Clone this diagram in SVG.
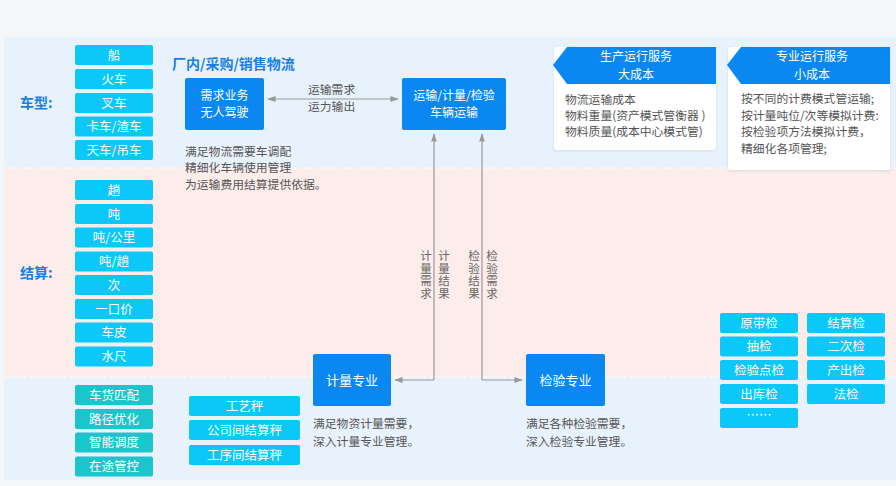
<svg xmlns="http://www.w3.org/2000/svg" width="896" height="486" viewBox="0 0 896 486">
<defs>
<style>
text{font-family:"Noto Sans CJK SC","Noto Sans",sans-serif;}
.cy{fill:#0bc8f9;}
.tl{fill:#1cc4cb;}
.bl{fill:#0a87f1;}
.wt{fill:#fff;font-size:12.5px;text-anchor:middle;}
.wn{fill:#fff;font-size:13px;text-anchor:middle;}
.w2{fill:#fff;font-size:12px;text-anchor:middle;}
.gt{fill:#555;font-size:11.8px;}
.lab{fill:#1a7fe0;font-size:14px;font-weight:bold;}
.ln{fill:none;stroke:#9a9a9a;stroke-width:1.2;}
.vt{fill:#666;font-size:11.5px;writing-mode:vertical-rl;letter-spacing:1px;}
</style>
<marker id="ah" viewBox="0 0 10 10" refX="9" refY="5" markerWidth="7" markerHeight="7" orient="auto-start-reverse">
<path d="M0,1.5 L10,5 L0,8.5 z" fill="#999"/>
</marker>
<filter id="sh" x="-10%" y="-10%" width="120%" height="130%">
<feDropShadow dx="0" dy="1" stdDeviation="1.5" flood-color="#9bb" flood-opacity="0.35"/>
</filter>
</defs>
<rect x="0" y="0" width="896" height="486" fill="#f4f6fa"/>
<rect x="4" y="37" width="892" height="131" fill="#e8f2fd"/>
<rect x="4" y="168" width="892" height="209" fill="#fcecea"/>
<rect x="4" y="377" width="892" height="103" fill="#e8f2fd"/>
<line x1="4" y1="168" x2="896" y2="168" stroke="#fff" stroke-width="1" stroke-dasharray="3,2"/>
<line x1="4" y1="377" x2="896" y2="377" stroke="#fff" stroke-width="1" stroke-dasharray="3,2"/>

<text class="lab" x="20" y="108">车型:</text>
<text class="lab" x="20" y="278">结算:</text>
<text class="lab" x="172" y="69">厂内/采购/销售物流</text>

<g id="vehicles">
<rect class="cy" x="75" y="45" width="78" height="20" rx="2"/><text class="wt" x="114" y="59.5">船</text>
<rect class="cy" x="75" y="69" width="78" height="20" rx="2"/><text class="wt" x="114" y="83.5">火车</text>
<rect class="cy" x="75" y="93" width="78" height="20" rx="2"/><text class="wt" x="114" y="107.5">叉车</text>
<rect class="cy" x="75" y="116.5" width="78" height="20" rx="2"/><text class="wt" x="114" y="131">卡车/渣车</text>
<rect class="cy" x="75" y="140" width="78" height="20" rx="2"/><text class="wt" x="114" y="154.5">天车/吊车</text>
</g>

<g id="settlement">
<rect class="cy" x="75" y="180" width="78" height="20" rx="2"/><text class="wt" x="114" y="194.5">趟</text>
<rect class="cy" x="75" y="204" width="78" height="20" rx="2"/><text class="wt" x="114" y="218.5">吨</text>
<rect class="cy" x="75" y="227.5" width="78" height="20" rx="2"/><text class="wt" x="114" y="242">吨/公里</text>
<rect class="cy" x="75" y="251.5" width="78" height="20" rx="2"/><text class="wt" x="114" y="266">吨/趟</text>
<rect class="cy" x="75" y="275" width="78" height="20" rx="2"/><text class="wt" x="114" y="289.5">次</text>
<rect class="cy" x="75" y="299" width="78" height="20" rx="2"/><text class="wt" x="114" y="313.5">一口价</text>
<rect class="cy" x="75" y="322.5" width="78" height="20" rx="2"/><text class="wt" x="114" y="337">车皮</text>
<rect class="cy" x="75" y="346.5" width="78" height="20" rx="2"/><text class="wt" x="114" y="361">水尺</text>
</g>

<g id="logistics">
<rect class="tl" x="75" y="385" width="78" height="20" rx="2"/><text class="wt" x="114" y="399.5">车货匹配</text>
<rect class="tl" x="75" y="409" width="78" height="20" rx="2"/><text class="wt" x="114" y="423.5">路径优化</text>
<rect class="tl" x="75" y="432.5" width="78" height="20" rx="2"/><text class="wt" x="114" y="447">智能调度</text>
<rect class="tl" x="75" y="456.5" width="78" height="20" rx="2"/><text class="wt" x="114" y="471">在途管控</text>
</g>

<g id="scales">
<rect class="cy" x="189" y="396" width="111" height="20" rx="2"/><text class="wt" x="244.5" y="410.5">工艺秤</text>
<rect class="cy" x="189" y="420" width="111" height="20" rx="2"/><text class="wt" x="244.5" y="434.5">公司间结算秤</text>
<rect class="cy" x="189" y="445" width="111" height="20" rx="2"/><text class="wt" x="244.5" y="459.5">工序间结算秤</text>
</g>

<g id="inspections">
<rect class="cy" x="720" y="313" width="78" height="20" rx="2"/><text class="wt" x="759" y="327.5">原带检</text>
<rect class="cy" x="720" y="336.5" width="78" height="20" rx="2"/><text class="wt" x="759" y="351">抽检</text>
<rect class="cy" x="720" y="360" width="78" height="20" rx="2"/><text class="wt" x="759" y="374.5">检验点检</text>
<rect class="cy" x="720" y="384" width="78" height="20" rx="2"/><text class="wt" x="759" y="398.5">出库检</text>
<rect class="cy" x="720" y="408" width="78" height="20" rx="2"/><text class="wt" x="759" y="420">……</text>
<rect class="cy" x="807" y="313" width="78" height="20" rx="2"/><text class="wt" x="846" y="327.5">结算检</text>
<rect class="cy" x="807" y="336.5" width="78" height="20" rx="2"/><text class="wt" x="846" y="351">二次检</text>
<rect class="cy" x="807" y="360" width="78" height="20" rx="2"/><text class="wt" x="846" y="374.5">产出检</text>
<rect class="cy" x="807" y="384" width="78" height="20" rx="2"/><text class="wt" x="846" y="398.5">法检</text>
</g>

<g id="demand">
<rect class="bl" x="185" y="78" width="79" height="52" rx="2"/>
<text class="w2" x="224.5" y="99.5">需求业务</text>
<text class="w2" x="224.5" y="117">无人驾驶</text>
<text class="gt" x="185" y="156">满足物流需要车调配</text>
<text class="gt" x="185" y="172">精细化车辆使用管理</text>
<text class="gt" x="185" y="189">为运输费用结算提供依据。</text>
</g>

<g id="transport">
<rect class="bl" x="402" y="78" width="104" height="52" rx="2"/>
<text class="w2" x="454" y="99.5">运输/计量/检验</text>
<text class="w2" x="454" y="117">车辆运输</text>
</g>

<g id="metering">
<rect class="bl" x="313" y="354" width="78" height="52" rx="2"/>
<text class="wn" x="352" y="385">计量专业</text>
<text class="gt" x="313" y="428">满足物资计量需要，</text>
<text class="gt" x="313" y="446">深入计量专业管理。</text>
</g>

<g id="inspection">
<rect class="bl" x="526" y="354" width="79" height="52" rx="2"/>
<text class="wn" x="565.5" y="385">检验专业</text>
<text class="gt" x="526" y="428">满足各种检验需要，</text>
<text class="gt" x="526" y="446">深入检验专业管理。</text>
</g>

<g id="card-large">
<rect x="554" y="47" width="162" height="103" rx="3" fill="#fff" filter="url(#sh)"/>
<path class="bl" d="M567,47 H716 V84 H567 L553,65 Z"/>
<text class="w2" x="636" y="61">生产运行服务</text>
<text class="w2" x="636" y="78.5">大成本</text>
<text class="gt" x="565" y="104">物流运输成本</text>
<text class="gt" x="565" y="120">物料重量(资产模式管衡器 )</text>
<text class="gt" x="565" y="136">物料质量(成本中心模式管)</text>
</g>

<g id="card-small">
<rect x="728" y="47" width="162" height="123" rx="3" fill="#fff" filter="url(#sh)"/>
<path class="bl" d="M741,47 H890 V84 H741 L727,65 Z"/>
<text class="w2" x="812" y="61">专业运行服务</text>
<text class="w2" x="812" y="78.5">小成本</text>
<text class="gt" x="741" y="103">按不同的计费模式管运输;</text>
<text class="gt" x="741" y="120">按计量吨位/次等模拟计费:</text>
<text class="gt" x="741" y="136">按检验项方法模拟计费，</text>
<text class="gt" x="741" y="153">精细化各项管理;</text>
</g>

<g id="connectors">
<line class="ln" x1="268" y1="99" x2="398" y2="99" marker-start="url(#ah)" marker-end="url(#ah)"/>
<text class="gt" x="308" y="94">运输需求</text>
<text class="gt" x="308" y="111">运力输出</text>
<path class="ln" d="M434,380 V134" marker-end="url(#ah)"/>
<path class="ln" d="M434,380 H395" marker-end="url(#ah)"/>
<path class="ln" d="M482,380 V134" marker-end="url(#ah)"/>
<path class="ln" d="M482,380 H522" marker-end="url(#ah)"/>
<text class="vt" x="426" y="250">计量需求</text>
<text class="vt" x="444" y="250">计量结果</text>
<text class="vt" x="474" y="250">检验结果</text>
<text class="vt" x="492" y="250">检验需求</text>
</g>
</svg>
